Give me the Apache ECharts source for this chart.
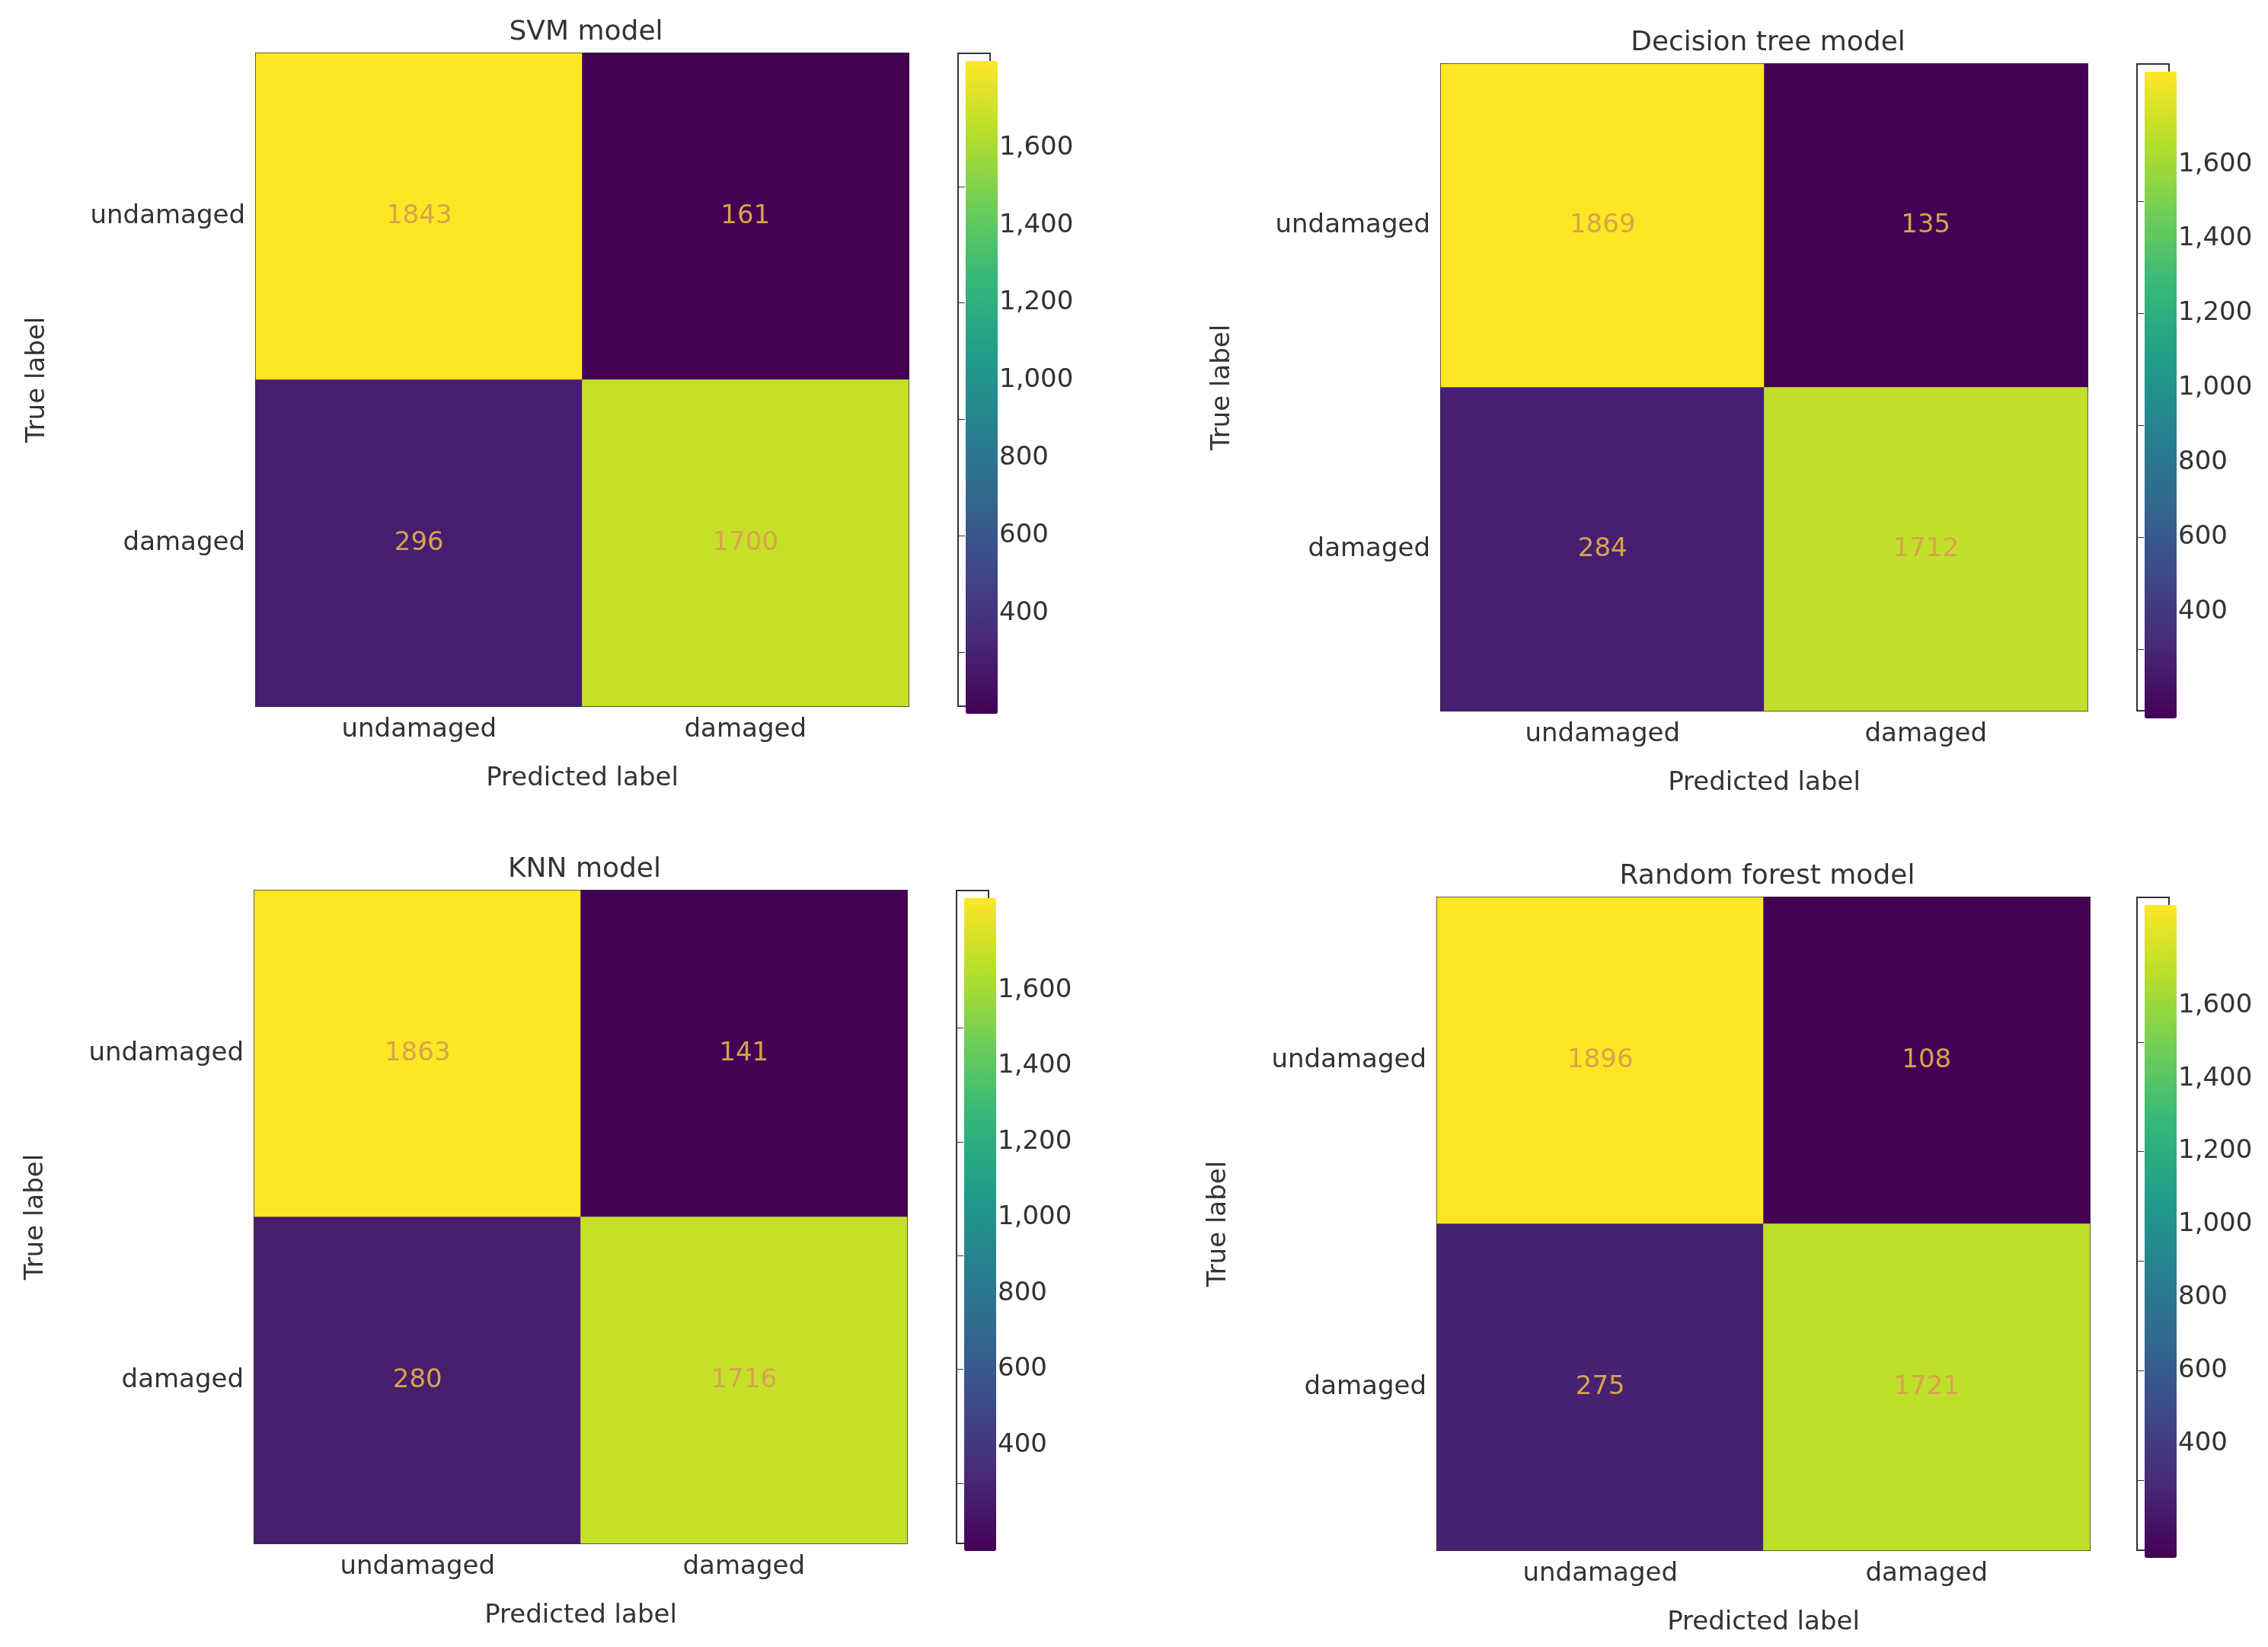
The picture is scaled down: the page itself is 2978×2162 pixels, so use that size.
<html>
<head>
<meta charset="utf-8" />
<script src="https://cdn.jsdelivr.net/npm/echarts@6/dist/echarts.min.js"></script>
</head>
<body style="margin:0;background:#fff">
<div id="container" style="width:2978px;height:2162px"></div>
<script>
var labels = ['undamaged', 'damaged'];
var titles = ['SVM model', 'Decision tree model', 'KNN model', 'Random forest model'];
// [true row][predicted col]
var svm = [[1843, 161], [296, 1700]];
var tree = [[1869, 135], [284, 1712]];
var knn = [[1863, 141], [280, 1716]];
var forest = [[1896, 108], [275, 1721]];
var cbarTicks = [200, 400, 600, 800, 1000, 1200, 1400, 1600, 1800];
var matrices = [svm, tree, knn, forest];

var viridis = ['#440154','#482878','#3e4989','#31688e','#26828e','#1f9e89','#35b779','#6ece58','#b5de2b','#fde725'];
var boxes = [
  {l: 336, t: 70, s: 857, cb: 1258},
  {l: 1892, t: 84, s: 849, cb: 2806},
  {l: 334, t: 1169, s: 857, cb: 1256},
  {l: 1887, t: 1178, s: 857, cb: 2806}
];
var font = 'DejaVu Sans';
var txt = '#333';

var option = {grid: [], xAxis: [], yAxis: [], series: [], visualMap: [], title: []};
matrices.forEach(function (m, i) {
  var b = boxes[i];
  var flat = [m[0][0], m[0][1], m[1][0], m[1][1]];
  var mn = Math.min.apply(null, flat), mx = Math.max.apply(null, flat);
  var data = [];
  for (var r = 0; r < 2; r++) for (var c = 0; c < 2; c++) data.push([c, r, m[r][c]]);
  option.title.push({text: titles[i], left: b.l + b.s / 2, top: b.t - 50, textAlign: 'center',
    textStyle: {fontFamily: font, fontSize: 36, fontWeight: 'normal', color: txt}});
  option.grid.push({left: b.l, top: b.t, width: b.s, height: b.s, show: true, borderColor: '#333', borderWidth: 2});
  option.xAxis.push({type: 'category', gridIndex: 2 * i, data: labels,
    name: 'Predicted label', nameLocation: 'middle', nameGap: 78,
    nameTextStyle: {fontFamily: font, fontSize: 34, color: txt},
    axisLine: {show: false}, axisTick: {alignWithLabel: true, length: 10, lineStyle: {color: '#333'}},
    axisLabel: {fontFamily: font, fontSize: 34, color: txt, margin: 14}, splitLine: {show: false}});
  option.yAxis.push({type: 'category', gridIndex: 2 * i, data: labels, inverse: true,
    name: 'True label', nameLocation: 'middle', nameGap: 270, nameRotate: 90,
    nameTextStyle: {fontFamily: font, fontSize: 34, color: txt},
    axisLine: {show: false}, axisTick: {alignWithLabel: true, length: 10, lineStyle: {color: '#333'}},
    axisLabel: {fontFamily: font, fontSize: 34, color: txt, margin: 14}, splitLine: {show: false}});
  option.series.push({type: 'heatmap', xAxisIndex: 2 * i, yAxisIndex: 2 * i, data: data,
    label: {show: true, fontFamily: font, fontSize: 34,
      formatter: function (p) { return p.value[2]; },
      color: '#d8a24c'}});
  option.visualMap.push({type: 'continuous', seriesIndex: 2 * i, min: mn, max: mx, calculable: false,
    hoverLink: false, left: b.cb - 5, top: b.t - 5, itemWidth: 42, itemHeight: b.s, text: ['', ''],
    showLabel: false, inRange: {color: viridis}});
  // colorbar tick axis
  option.grid.push({left: b.cb, top: b.t, width: 42, height: b.s, show: true, borderColor: '#333', borderWidth: 2});
  option.xAxis.push({type: 'value', gridIndex: 2 * i + 1, show: false});
  option.yAxis.push({type: 'value', gridIndex: 2 * i + 1, min: mn, max: mx, position: 'right',
    axisLine: {show: false}, splitLine: {show: false},
    axisTick: {show: true, length: 9, lineStyle: {color: '#333'}},
    axisLabel: {fontFamily: font, fontSize: 34, color: txt, margin: 12,
      customValues: cbarTicks, showMinLabel: false, showMaxLabel: false},
    customValues: cbarTicks});
  option.series.push({type: 'scatter', xAxisIndex: 2 * i + 1, yAxisIndex: 2 * i + 1, data: [], silent: true});
});

var myChart = echarts.init(document.getElementById('container'));
myChart.setOption(option);
</script>
</body>
</html>
